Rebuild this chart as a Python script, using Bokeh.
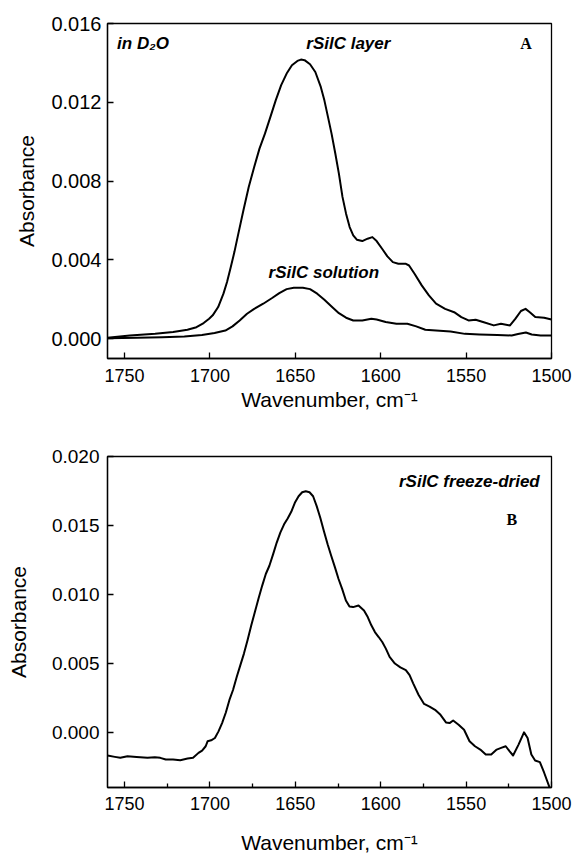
from bokeh.plotting import figure
from bokeh.models import Range1d, FixedTicker, PrintfTickFormatter, Label
from bokeh.layouts import column
from bokeh.embed import file_html
from bokeh.resources import INLINE

# ---- Panel A data (in D2O) ----
layer_wn = [1760, 1746.9, 1732.1, 1721.6, 1713.2, 1707.9, 1703.7, 1700.5, 1698.4, 1695.2,
            1692.1, 1690, 1687.8, 1685.7, 1683.6, 1680.4, 1677.3, 1674.1, 1671, 1667.8,
            1664.6, 1661.5, 1658.3, 1655.1, 1652, 1648.8, 1646.7, 1644.6, 1641.4, 1638.3,
            1635.1, 1633, 1630.9, 1628.8, 1626.6, 1624.5, 1622.4, 1620.3, 1618.2, 1616.1,
            1614, 1610.8, 1607.7, 1604.9, 1602.4, 1599.2, 1596.1, 1592.9, 1589.7, 1585.5,
            1583.4, 1580.2, 1576, 1571.8, 1567.6, 1562.3, 1557.0, 1552.8, 1548.6, 1544.4,
            1540.1, 1533.8, 1529.6, 1524.3, 1521.1, 1517.9, 1515.2, 1512.7, 1509.5, 1504.3,
            1500]
layer_abs = [0.00005, 0.00017, 0.00025, 0.00034, 0.00046, 0.00059, 0.0008, 0.00102, 0.00119,
             0.00161, 0.00229, 0.00288, 0.00364, 0.0044, 0.00525, 0.00652, 0.0077, 0.00872,
             0.00965, 0.01041, 0.01126, 0.0121, 0.01287, 0.01346, 0.01388, 0.0141, 0.01417,
             0.01414, 0.01393, 0.01354, 0.01278, 0.0121, 0.01126, 0.01041, 0.0094, 0.00838,
             0.0072, 0.00635, 0.00567, 0.00525, 0.00503, 0.00496, 0.00508, 0.00516, 0.00496,
             0.00457, 0.00418, 0.00389, 0.00381, 0.00381, 0.00372, 0.0033, 0.00271, 0.0022,
             0.00178, 0.00152, 0.00135, 0.0011, 0.00093, 0.00097, 0.00085, 0.00068, 0.00076,
             0.00068, 0.00102, 0.00141, 0.00152, 0.00135, 0.0011, 0.00107, 0.00098]

sol_wn = [1760, 1742.7, 1728, 1715, 1704.7, 1697.3, 1691, 1686.8, 1682.6, 1678.3, 1674.1,
          1668.8, 1663.6, 1659.4, 1655.1, 1650.9, 1645.6, 1641.4, 1637.2, 1633, 1628.8,
          1624.5, 1620.3, 1616.1, 1610.8, 1605.5, 1602.4, 1597.1, 1590.8, 1584.4, 1579.2,
          1573.9, 1567.6, 1559.1, 1550.7, 1542.2, 1531.7, 1523.3, 1519.6, 1515, 1511.6,
          1506.4, 1500]
sol_abs = [0.00003, 0.00005, 0.00008, 0.00012, 0.00019, 0.00029, 0.00042, 0.00063, 0.00093,
           0.00127, 0.00152, 0.00178, 0.00207, 0.00232, 0.00252, 0.00259, 0.00259, 0.00252,
           0.00229, 0.00198, 0.00164, 0.0013, 0.00107, 0.00093, 0.00093, 0.00102, 0.00098,
           0.00085, 0.00076, 0.00076, 0.00063, 0.00046, 0.00042, 0.00037, 0.00025, 0.00022,
           0.00019, 0.00017, 0.00024, 0.00032, 0.00022, 0.00017, 0.00017]

# ---- Panel B data (freeze-dried) ----
fd_wn = [1760, 1755.7, 1752.5, 1748.3, 1743, 1736.6, 1732.3, 1729.1, 1725.9, 1721.6, 1717.4,
         1713.1, 1709.9, 1706.7, 1704.6, 1702.5, 1701.4, 1699.3, 1697.1, 1695, 1692.9,
         1690.7, 1688.6, 1686.5, 1684.3, 1682.2, 1680.1, 1678, 1675.8, 1673.7, 1671.6,
         1669.4, 1667.3, 1665.2, 1663, 1660.9, 1658.8, 1656.6, 1654.5, 1652.4, 1650.3,
         1648.1, 1646, 1643.9, 1641.7, 1639.6, 1637.5, 1635.4, 1633.3, 1631.1, 1629, 1626.8,
         1624.7, 1622.6, 1620.4, 1618.3, 1616.2, 1613, 1609.8, 1607.6, 1605.5, 1603.4,
         1601.2, 1599.1, 1597, 1594.8, 1591.7, 1588.5, 1585.3, 1583.1, 1581, 1577.8, 1574.6,
         1571.4, 1568.2, 1565, 1561.8, 1559.7, 1557.6, 1554.4, 1551.2, 1548, 1544.8, 1541.7,
         1538.5, 1535.3, 1532.1, 1529.5, 1526.8, 1524.6, 1522.5, 1519.3, 1516.1, 1514,
         1511.8, 1509.6, 1506.8, 1504.3, 1501.1]
fd_abs = [-0.00168, -0.00178, -0.00185, -0.00173, -0.00178, -0.00185, -0.0018, -0.00185,
          -0.00197, -0.00197, -0.00202, -0.0019, -0.00185, -0.00149, -0.00132, -0.00101,
          -0.00065, -0.00058, -0.00041, 0.00007, 0.00067, 0.00144, 0.00235, 0.00307, 0.00403,
          0.00487, 0.00571, 0.00667, 0.00776, 0.00872, 0.00968, 0.01064, 0.01148, 0.01208,
          0.01292, 0.01376, 0.01448, 0.01508, 0.01551, 0.01599, 0.01664, 0.01712, 0.01741,
          0.01748, 0.01741, 0.01712, 0.0164, 0.01556, 0.0146, 0.01364, 0.0128, 0.01196,
          0.01112, 0.0104, 0.00956, 0.00912, 0.00908, 0.0092, 0.00884, 0.00836, 0.00776,
          0.00727, 0.00691, 0.00655, 0.00607, 0.00547, 0.00499, 0.00471, 0.00451, 0.00415,
          0.00355, 0.00271, 0.00206, 0.00187, 0.00163, 0.00127, 0.00072, 0.00067, 0.00086,
          0.00055, 0.00019, -0.00065, -0.00101, -0.00125, -0.00161, -0.00161, -0.00125,
          -0.00113, -0.00101, -0.00137, -0.00168, -0.00089, 0.0, -0.00041, -0.00161, -0.00204,
          -0.00216, -0.00293, -0.00401]

x_ticks = [1750, 1700, 1650, 1600, 1550, 1500]
x_minor = [1725, 1675, 1625, 1575, 1525]
ya_ticks = [0.000, 0.004, 0.008, 0.012, 0.016]
yb_ticks = [0.000, 0.005, 0.010, 0.015, 0.020]

SANS = "Liberation Sans"
SERIF = "Liberation Serif"


def style(p, yticks, minor, ytick_size, ylab_standoff, ytick_standoff, xtick_standoff,
          xlab_standoff):
    p.xgrid.visible = False
    p.ygrid.visible = False
    p.outline_line_color = "black"
    p.outline_line_width = 1.3
    p.background_fill_color = "white"
    p.border_fill_color = "white"
    p.xaxis.ticker = FixedTicker(ticks=x_ticks, minor_ticks=minor)
    p.yaxis.ticker = FixedTicker(ticks=yticks, minor_ticks=[])
    p.yaxis.formatter = PrintfTickFormatter(format="%.3f")
    for ax in (p.xaxis[0], p.yaxis[0]):
        ax.axis_line_color = "black"
        ax.axis_line_width = 1.3
        ax.major_tick_line_color = "black"
        ax.major_tick_line_width = 1.3
        ax.major_tick_in = 6
        ax.major_tick_out = 0
        ax.minor_tick_line_color = "black" if ax is p.xaxis[0] and minor else None
        ax.minor_tick_line_width = 1.3
        ax.minor_tick_in = 4
        ax.minor_tick_out = 0
        ax.major_label_text_font = SANS
        ax.major_label_text_color = "black"
        ax.axis_label_text_font = SANS
        ax.axis_label_text_font_style = "normal"
        ax.axis_label_text_font_size = "21px"
        ax.axis_label_text_color = "black"
    p.xaxis.major_label_text_font_size = "18px"
    p.yaxis.major_label_text_font_size = ytick_size
    p.xaxis.major_label_standoff = xtick_standoff
    p.yaxis.major_label_standoff = ytick_standoff
    p.yaxis.axis_label_standoff = ylab_standoff
    p.xaxis.axis_label_standoff = xlab_standoff
    p.xaxis.axis_label = "Wavenumber, cm\u207b\u00b9"
    p.yaxis.axis_label = "Absorbance"


def note(p, x, y, text, align="left", font=SANS, style_="bold italic", size="17px"):
    p.add_layout(Label(x=x, y=y, text=text, text_font=font, text_font_style=style_,
                       text_font_size=size, text_align=align, text_baseline="middle",
                       text_color="black"))


# ---- Panel A ----
p1 = figure(width=577, height=428, output_backend="svg", toolbar_location=None,
            x_range=Range1d(1760, 1500), y_range=Range1d(-0.001, 0.016),
            min_border_left=98, min_border_right=26, min_border_top=23, min_border_bottom=70)
style(p1, ya_ticks, [], "20px", 10, 6, 10, 3)
p1.line(layer_wn, layer_abs, line_color="black", line_width=2, line_join="round")
p1.line(sol_wn, sol_abs, line_color="black", line_width=2, line_join="round")
note(p1, 1754.4, 0.0150, "in D\u2082O")
note(p1, 1643.6, 0.0150, "rSilC layer")
note(p1, 1665.7, 0.00334, "rSilC solution")
note(p1, 1514.9, 0.0150, "A", align="center", font=SERIF, style_="bold", size="16px")

# ---- Panel B ----
p2 = figure(width=577, height=428, output_backend="svg", toolbar_location=None,
            x_range=Range1d(1760, 1500), y_range=Range1d(-0.004, 0.020),
            min_border_left=107, min_border_right=22, min_border_top=28, min_border_bottom=68)
style(p2, yb_ticks, x_minor, "19px", 19, 8, 9, 18)
p2.line(fd_wn, fd_abs, line_color="black", line_width=2, line_join="round")
note(p2, 1506.9, 0.01819, "rSilC freeze-dried", align="right")
note(p2, 1523.2, 0.01544, "B", align="center", font=SERIF, style_="bold", size="16px")

layout = column(p1, p2)
open("out.html", "w").write(file_html(layout, INLINE))
